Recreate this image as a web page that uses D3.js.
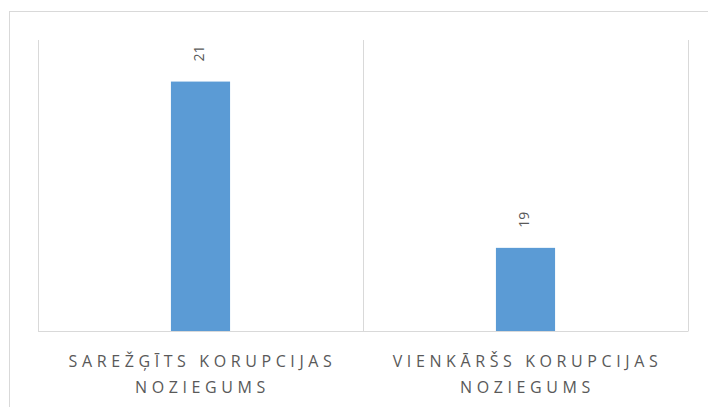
<!DOCTYPE html>
<html>
<head>
<meta charset="utf-8">
<script src="https://cdn.jsdelivr.net/npm/d3@7"></script>
<style>
  body { margin: 0; background: #fff; }
  text { font-family: "Open Sans", Lato, sans-serif; fill: #595959; }
</style>
</head>
<body>
<div id="chart"></div>
<script>
// chart values
const categories = ["SAREŽĢĪTS KORUPCIJAS NOZIEGUMS", "VIENKĀRŠS KORUPCIJAS NOZIEGUMS"];
const values = [21, 19];
const valueDomain = [18, 21.5];

const width = 708;
const height = 407;
const margin = {top: 40, right: 20, bottom: 76, left: 38};

const svg = d3.select("#chart")
  .append("svg")
  .attr("width", width)
  .attr("height", height);

// outer chart border (runs off the right and bottom edges)
svg.append("rect")
  .attr("x", 9.5)
  .attr("y", 11.5)
  .attr("width", 720)
  .attr("height", 420)
  .attr("fill", "none")
  .attr("stroke", "#d9d9d9");

const x = d3.scaleBand()
  .domain(categories)
  .range([margin.left, width - margin.right])
  .paddingInner(0)
  .paddingOuter(0);

const y = d3.scaleLinear()
  .domain(valueDomain)
  .range([height - margin.bottom, margin.top]);

const barW = x.bandwidth() * 0.182;

// vertical separators between categories
const edges = categories.map(c => x(c)).concat([x(categories[categories.length - 1]) + x.bandwidth()]);
svg.append("g")
  .selectAll("line")
  .data(edges)
  .enter()
  .append("line")
  .attr("x1", d => Math.round(d) + 0.5)
  .attr("x2", d => Math.round(d) + 0.5)
  .attr("y1", margin.top)
  .attr("y2", height - margin.bottom)
  .attr("stroke", "#d9d9d9");

// bars
svg.append("g")
  .selectAll("rect")
  .data(values)
  .enter()
  .append("rect")
  .attr("x", (d, i) => x(categories[i]) + x.bandwidth() / 2 - barW / 2)
  .attr("y", d => y(d))
  .attr("width", barW)
  .attr("height", d => y(valueDomain[0]) - y(d))
  .attr("fill", "#5b9bd5");

// baseline
svg.append("line")
  .attr("x1", margin.left)
  .attr("x2", width - margin.right + 0.5)
  .attr("y1", y(valueDomain[0]) + 0.5)
  .attr("y2", y(valueDomain[0]) + 0.5)
  .attr("stroke", "#d9d9d9");

// rotated value labels
svg.append("g")
  .selectAll("text")
  .data(values)
  .enter()
  .append("text")
  .attr("transform", (d, i) => {
    const cx = x(categories[i]) + x.bandwidth() / 2;
    return "translate(" + (cx + 3) + "," + (y(d) - 28) + ") rotate(-90)";
  })
  .attr("text-anchor", "middle")
  .style("font-size", "14px")
  .text(d => d);

// category labels, two lines each
const labels = svg.append("g")
  .selectAll("text")
  .data(categories)
  .enter()
  .append("text")
  .attr("text-anchor", "middle")
  .style("font-size", "16px")
  .style("letter-spacing", "4.6px");

labels.each(function (c) {
  const words = c.split(" ");
  const lines = [words.slice(0, 2).join(" "), words.slice(2).join(" ")];
  const cx = x(c) + x.bandwidth() / 2 + 2;
  d3.select(this).selectAll("tspan")
    .data(lines)
    .enter()
    .append("tspan")
    .attr("x", cx)
    .attr("y", (d, i) => 367 + i * 26)
    .text(d => d);
});
</script>
</body>
</html>
